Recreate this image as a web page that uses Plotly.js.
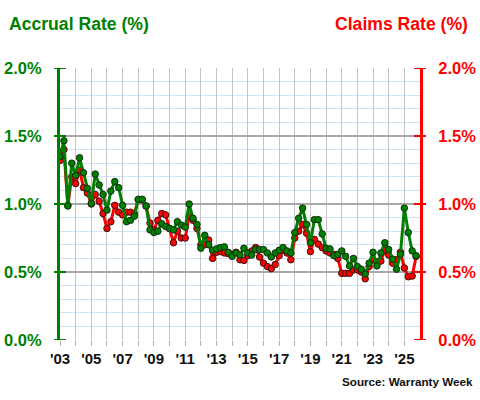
<!DOCTYPE html>
<html>
<head>
<meta charset="utf-8">
<script src="https://cdn.plot.ly/plotly-3.0.1.min.js"></script>
<style>html,body{margin:0;padding:0;background:#fff}#chart{width:480px;height:400px}</style>
</head>
<body>
<div id="chart"></div>
<script>
// Quarterly data, 2003 Q1 .. 2025 Q4
var startYear = 2003;
var accrualRate = [
  1.35, 1.465, 0.985, 1.30, 1.21, 1.34, 1.23, 1.115, 1.005, 1.22, 1.14, 1.07,
  0.955, 1.095, 1.165, 1.12, 0.99, 0.87, 0.88, 0.91, 1.035, 1.035, 0.985,
  0.81, 0.79, 0.80, 0.855, 0.835, 0.82, 0.81, 0.87, 0.845, 0.83, 1.00, 0.895,
  0.85, 0.675, 0.77, 0.70, 0.66, 0.67, 0.68, 0.685, 0.645, 0.615, 0.64,
  0.625, 0.675, 0.64, 0.625, 0.665, 0.665, 0.665, 0.64, 0.61, 0.64, 0.66, 0.68,
  0.655, 0.64, 0.79, 0.895, 0.97, 0.85, 0.715, 0.885, 0.885, 0.78, 0.675, 0.67,
  0.62, 0.63,
  0.655, 0.615, 0.545, 0.60, 0.54, 0.52, 0.485, 0.565, 0.645, 0.545, 0.64, 0.715,
  0.665, 0.595, 0.52, 0.63, 0.97, 0.79, 0.655, 0.62
];
var claimsRate = [
  1.32, 1.40, 0.99, 1.20, 1.15, 1.25, 1.12, 1.08, 1.00, 1.07, 1.02, 0.93,
  0.82, 0.87, 0.99, 0.94, 0.92, 0.94, 0.94, 0.93, 1.03, 1.03, 0.985,
  0.86, 0.81, 0.88, 0.93, 0.92, 0.82, 0.715, 0.80, 0.75, 0.75, 0.91, 0.88,
  0.82, 0.70, 0.70, 0.735, 0.60, 0.645, 0.65, 0.64, 0.635, 0.63, 0.645,
  0.59, 0.585, 0.62, 0.655, 0.68, 0.61, 0.565, 0.54, 0.525, 0.555, 0.62, 0.66,
  0.64, 0.59, 0.75, 0.80, 0.85, 0.785, 0.65, 0.74, 0.705, 0.68, 0.655, 0.64,
  0.63, 0.60,
  0.49, 0.49, 0.49, 0.515, 0.515, 0.50, 0.45, 0.54, 0.59, 0.575, 0.58, 0.66,
  0.625, 0.565, 0.59, 0.645, 0.53, 0.465, 0.47, 0.615
];
var yearTicks = [2003,2004,2005,2006,2007,2008,2009,2010,2011,2012,2013,2014,
                 2015,2016,2017,2018,2019,2020,2021,2022,2023,2024,2025];
var yearLabels = ["'03","","'05","","'07","","'09","","'11","","'13","",
                  "'15","","'17","","'19","","'21","","'23","","'25"];
var rateTicks = [0, 0.5, 1.0, 1.5, 2.0];
var rateLabels = ["0.0%", "0.5%", "1.0%", "1.5%", "2.0%"];

var quarterX = accrualRate.map(function (v, i) { return startYear + i / 4; });

var GREEN = '#008000', RED = '#ff0000';

var claimsTrace = {
  x: quarterX, y: claimsRate, yaxis: 'y', type: 'scatter', mode: 'lines+markers',
  line: {color: RED, width: 3},
  marker: {color: RED, size: 6.5, line: {color: '#3a1010', width: 1}},
  hoverinfo: 'skip', showlegend: false
};
var accrualTrace = {
  x: quarterX, y: accrualRate, yaxis: 'y2', type: 'scatter', mode: 'lines+markers',
  line: {color: GREEN, width: 3},
  marker: {color: GREEN, size: 6.5, line: {color: '#0f2f0f', width: 1}},
  hoverinfo: 'skip', showlegend: false
};

var shapes = [];
rateTicks.forEach(function (v) {
  shapes.push({type: 'line', xref: 'paper', xsizemode: 'pixel', xanchor: 0, x0: -6, x1: 6,
               yref: 'y', y0: v, y1: v, line: {color: GREEN, width: 2}});
  shapes.push({type: 'line', xref: 'paper', xsizemode: 'pixel', xanchor: 1, x0: -6, x1: 6,
               yref: 'y', y0: v, y1: v, line: {color: RED, width: 2}});
});

var layout = {
  width: 480, height: 400,
  margin: {l: 60, r: 60, t: 68, b: 60},
  paper_bgcolor: '#ffffff', plot_bgcolor: '#ffffff',
  font: {family: 'Arial, Liberation Sans, sans-serif'},
  showlegend: false,
  xaxis: {
    range: [2003, 2026], tickmode: 'array', tickvals: yearTicks, ticktext: yearLabels,
    ticks: 'outside', ticklen: 5, tickwidth: 1, tickcolor: '#b0b0b0',
    showgrid: true, gridcolor: '#c4c4c4', gridwidth: 1,
    zeroline: false, showline: false,
    tickfont: {size: 15, color: '#111', family: 'Arial, Liberation Sans, sans-serif', weight: 'bold'}
  },
  yaxis: {
    range: [0, 2], side: 'right', tickmode: 'array', tickvals: rateTicks, ticktext: rateLabels,
    ticks: '', showline: true, linecolor: RED, linewidth: 3,
    showgrid: true, gridcolor: '#a8a8a8', gridwidth: 1.5,
    minor: {dtick: 0.1, showgrid: true, gridcolor: '#cfe2f6', gridwidth: 1},
    zeroline: false, ticklabelstandoff: 12,
    tickfont: {size: 16.5, color: RED, family: 'Arial, Liberation Sans, sans-serif', weight: 'bold'}
  },
  yaxis2: {
    range: [0, 2], side: 'left', overlaying: 'y', tickmode: 'array', tickvals: rateTicks, ticktext: rateLabels,
    ticks: '', showline: true, linecolor: GREEN, linewidth: 3,
    showgrid: false, zeroline: false, ticklabelstandoff: 12,
    tickfont: {size: 16.5, color: GREEN, family: 'Arial, Liberation Sans, sans-serif', weight: 'bold'}
  },
  shapes: shapes,
  annotations: [
    {text: 'Accrual Rate (%)', xref: 'paper', yref: 'paper', x: -0.147, y: 1.162,
     xanchor: 'left', yanchor: 'middle', showarrow: false,
     font: {size: 17.6, color: GREEN, family: 'Arial, Liberation Sans, sans-serif', weight: 'bold'}},
    {text: 'Claims Rate (%)', xref: 'paper', yref: 'paper', x: 1.139, y: 1.162,
     xanchor: 'right', yanchor: 'middle', showarrow: false,
     font: {size: 17.6, color: RED, family: 'Arial, Liberation Sans, sans-serif', weight: 'bold'}},
    {text: 'Source: Warranty Week', xref: 'paper', yref: 'paper', x: 1.153, y: -0.154,
     xanchor: 'right', yanchor: 'middle', showarrow: false,
     font: {size: 11.7, color: '#111', family: 'Arial, Liberation Sans, sans-serif', weight: 'bold'}}
  ]
};

Plotly.newPlot('chart', [claimsTrace, accrualTrace], layout, {staticPlot: true, displayModeBar: false});
</script>
</body>
</html>
